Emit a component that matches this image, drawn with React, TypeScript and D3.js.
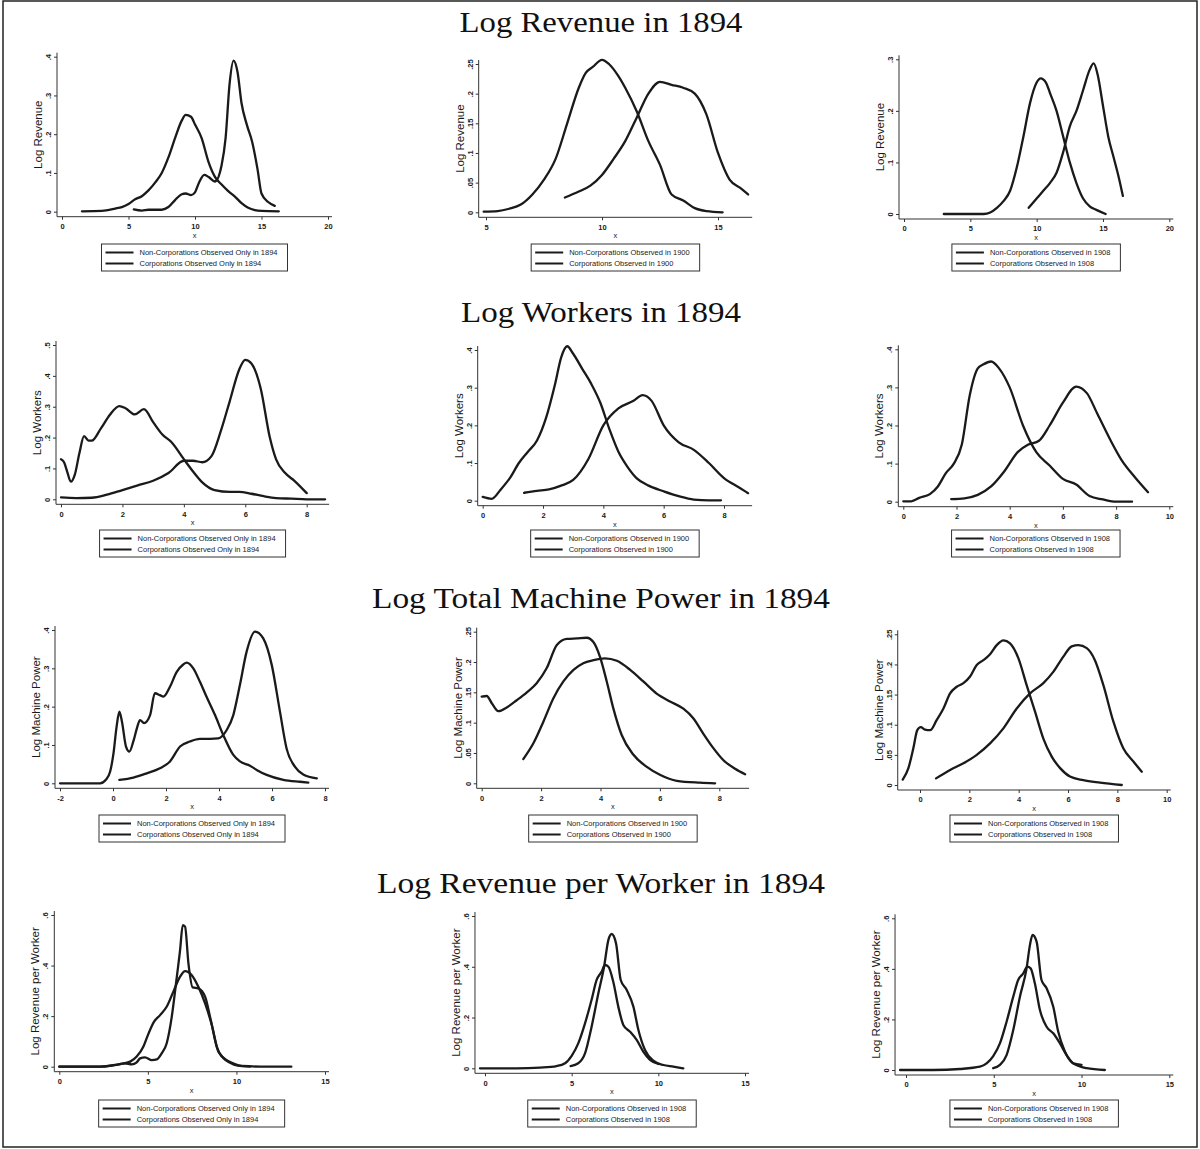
import React, { useEffect, useRef } from 'react';
import * as d3 from 'd3';

// density estimates: [x, density]
const revenue1894Non = [[1.5,.001],[3,.002],[4,.008],[4.5,.012],[5,.02],[5.5,.032],[6,.04],[6.5,.055],[7,.075],[7.5,.1],[8,.14],[8.5,.19],[9,.235],[9.3,.25],[9.7,.245],[10,.225],[10.5,.19],[11,.13],[11.5,.09],[12,.07],[12.5,.053],[13,.039],[13.5,.022],[14,.01],[14.5,.004],[15,.002],[16.3,.001]];
const revenue1894Corp = [[5.4,.006],[6,.003],[6.5,.005],[7,.005],[7.5,.005],[8,.012],[8.5,.03],[9,.045],[9.3,.047],[9.7,.043],[10,.05],[10.3,.075],[10.7,.095],[11,.09],[11.5,.078],[12,.12],[12.3,.19],[12.6,.33],[12.9,.39],[13.2,.36],[13.5,.28],[13.9,.224],[14.3,.18],[14.7,.11],[15,.047],[15.5,.025],[16,.015]];
const revenue1900Non = [[4.9,.001],[5.5,.002],[6,.006],[6.5,.013],[7,.03],[7.5,.055],[8,.09],[8.5,.15],[9,.21],[9.3,.235],[9.6,.245],[10,.257],[10.3,.25],[10.7,.23],[11,.21],[11.5,.17],[12,.12],[12.5,.08],[13,.03],[13.5,.02],[14,.007],[14.5,.002],[15.2,0]];
const revenue1900Corp = [[8.4,.025],[9,.035],[9.5,.045],[10,.063],[10.5,.09],[11,.12],[11.5,.16],[12,.2],[12.5,.22],[13,.215],[13.5,.21],[14,.2],[14.5,.165],[15,.1],[15.5,.055],[16,.04],[16.3,.03]];
const revenue1908Non = [[3,0],[6,0],[6.5,.003],[7,.012],[7.5,.025],[8,.045],[8.5,.09],[9,.15],[9.5,.215],[10,.255],[10.3,.263],[10.7,.255],[11,.235],[11.5,.2],[12,.15],[12.5,.1],[13,.06],[13.5,.03],[14,.015],[14.5,.008],[15.2,0]];
const revenue1908Corp = [[9.4,.012],[10,.03],[10.5,.045],[11,.06],[11.5,.08],[12,.12],[12.5,.17],[13,.2],[13.5,.24],[14,.28],[14.3,.292],[14.6,.27],[15,.21],[15.4,.15],[15.8,.11],[16.2,.07],[16.5,.035]];

const workers1894Non = [[0,.13],[.1,.12],[.2,.09],[.32,.057],[.45,.08],[.6,.15],[.75,.205],[.9,.19],[1,.19],[1.3,.23],[1.6,.275],[1.9,.302],[2.1,.295],[2.4,.275],[2.7,.292],[3,.25],[3.3,.21],[3.6,.185],[4,.13],[4.3,.09],[4.6,.055],[5,.03],[5.5,.024],[5.8,.024],[6.2,.018],[6.6,.01],[7,.004],[7.5,.002],[8,0],[8.6,0]];
const workers1894Corp = [[0,.006],[.5,.004],[1,.005],[1.5,.015],[2,.03],[2.5,.045],[3,.06],[3.5,.085],[4,.125],[4.3,.125],[4.6,.12],[4.9,.14],[5.2,.22],[5.5,.32],[5.8,.42],[6,.452],[6.2,.44],[6.5,.36],[6.8,.2],[7,.13],[7.3,.085],[7.6,.06],[8,.02]];
const workers1900Non = [[0,.01],[.3,.005],[.6,.03],[.9,.06],[1.2,.1],[1.5,.13],[1.8,.16],[2.1,.22],[2.4,.31],[2.6,.38],[2.8,.41],[3,.39],[3.3,.35],[3.6,.31],[3.9,.26],[4.2,.19],[4.5,.13],[4.8,.09],[5.1,.06],[5.5,.04],[6,.025],[6.5,.012],[7,.003],[7.5,.001],[7.9,.001]];
const workers1900Corp = [[1.37,.021],[1.8,.026],[2.2,.03],[2.6,.04],[3,.055],[3.5,.11],[4,.2],[4.5,.245],[5,.265],[5.3,.28],[5.6,.265],[6,.2],[6.5,.155],[7,.135],[7.5,.1],[8,.06],[8.5,.035],[8.8,.02]];
const workers1908Non = [[0,.001],[.3,.001],[.6,.01],[1,.02],[1.3,.04],[1.6,.075],[1.9,.1],[2.2,.15],[2.5,.28],[2.8,.35],[3,.36],[3.3,.368],[3.6,.35],[4,.3],[4.5,.2],[5,.13],[5.5,.095],[6,.06],[6.5,.045],[7,.015],[7.5,.006],[8,0],[8.6,0]];
const workers1908Corp = [[1.8,.007],[2.3,.009],[2.8,.018],[3.3,.04],[3.8,.08],[4.3,.13],[4.7,.15],[5.1,.16],[5.5,.2],[6,.26],[6.5,.302],[6.9,.285],[7.3,.23],[7.8,.16],[8.2,.11],[8.7,.065],[9.2,.025]];

const power1894Non = [[-2,0],[-.49,0],[-.26,.01],[-.11,.03],[.01,.074],[.14,.15],[.24,.187],[.34,.16],[.49,.096],[.62,.083],[.77,.11],[.92,.148],[1.02,.165],[1.17,.157],[1.4,.178],[1.58,.235],[1.77,.23],[1.9,.226],[2.15,.252],[2.4,.29],[2.65,.31],[2.78,.315],[3.03,.3],[3.28,.265],[3.53,.226],[3.85,.178],[4.16,.126],[4.54,.074],[4.79,.057],[5.17,.046],[5.42,.035],[5.8,.022],[6.43,.009],[7.06,.004],[7.37,.002]];
const power1894Corp = [[.24,.009],[.77,.015],[1.27,.026],[1.77,.039],[2.15,.057],[2.53,.096],[2.9,.109],[3.28,.116],[3.66,.116],[3.97,.117],[4.29,.139],[4.54,.178],[4.79,.257],[5.04,.343],[5.36,.396],[5.67,.378],[5.99,.309],[6.3,.187],[6.55,.091],[6.87,.043],[7.18,.023],[7.69,.013]];
const power1900Non = [[0,.143],[.17,.144],[.34,.132],[.56,.119],[.84,.125],[1.18,.137],[1.52,.15],[1.85,.165],[2.19,.19],[2.53,.228],[2.86,.238],[3.2,.239],[3.54,.24],[3.76,.233],[3.98,.209],[4.21,.168],[4.43,.124],[4.71,.08],[5.11,.047],[5.56,.027],[6,.014],[6.57,.004],[7.35,.001],[7.86,0]];
const power1900Corp = [[1.4,.04],[1.74,.066],[2.08,.102],[2.41,.14],[2.75,.168],[3.09,.187],[3.42,.198],[3.76,.203],[4.15,.206],[4.55,.202],[5,.187],[5.44,.168],[5.89,.148],[6.34,.135],[6.79,.123],[7.13,.107],[7.46,.082],[7.8,.058],[8.14,.038],[8.53,.024],[8.87,.015]];
const power1908Non = [[-.7,.009],[-.47,.028],[-.27,.061],[-.11,.091],[.03,.096],[.2,.092],[.41,.091],[.68,.108],[.95,.127],[1.22,.152],[1.49,.163],[1.76,.169],[2.03,.18],[2.3,.199],[2.57,.207],[2.84,.217],[3.11,.232],[3.38,.24],[3.65,.235],[3.99,.21],[4.32,.166],[4.66,.122],[5,.077],[5.34,.047],[5.68,.028],[6.08,.014],[6.62,.008],[7.3,.004],[8.18,0]];
const power1908Corp = [[.65,.011],[1.22,.025],[1.76,.036],[2.3,.05],[2.84,.069],[3.38,.094],[3.92,.127],[4.46,.152],[5,.169],[5.41,.188],[5.81,.213],[6.15,.23],[6.42,.232],[6.76,.227],[7.09,.207],[7.43,.166],[7.84,.105],[8.24,.061],[8.65,.039],[8.99,.022]];

const perWorker1894Non = [[0,0],[2.3,0],[2.86,.003],[3.43,.01],[4,.02],[4.37,.04],[4.75,.08],[5.03,.13],[5.35,.178],[5.69,.204],[6.06,.237],[6.44,.297],[6.82,.356],[7.1,.378],[7.48,.362],[7.85,.316],[8.23,.25],[8.61,.165],[8.98,.059],[9.45,.026],[9.83,.013],[10.3,.003],[11.7,0],[13.1,0]];
const perWorker1894Corp = [[0,0],[2.3,0],[3.15,.007],[3.7,.013],[4.09,.009],[4.37,.017],[4.56,.033],[4.84,.037],[5.22,.026],[5.5,.029],[5.78,.053],[6.06,.092],[6.35,.198],[6.59,.33],[6.82,.462],[6.97,.56],[7.1,.554],[7.29,.409],[7.53,.314],[7.85,.31],[8.23,.277],[8.55,.185],[8.89,.079],[9.27,.033],[9.64,.016],[10.02,.005],[10.77,0]];
const perWorker1908aNon = [[-.29,0],[1.83,0],[3.17,.003],[4.13,.009],[4.62,.02],[5,.049],[5.38,.098],[5.77,.177],[6.15,.27],[6.44,.348],[6.73,.381],[6.92,.407],[7.12,.4],[7.4,.341],[7.69,.243],[7.98,.171],[8.37,.144],[8.75,.112],[9.13,.066],[9.52,.033],[10,.017]];
const perWorker1908aCorp = [[4.94,.009],[5.38,.02],[5.77,.059],[6.15,.164],[6.54,.296],[6.87,.4],[7.12,.506],[7.31,.529],[7.56,.492],[7.83,.348],[8.17,.309],[8.56,.243],[8.85,.151],[9.23,.072],[9.71,.03],[10.29,.013],[10.87,.007],[11.44,0]];
const perWorker1908bNon = [[-.34,0],[1.56,0],[3.07,.004],[4.21,.013],[4.59,.026],[4.97,.055],[5.35,.105],[5.73,.191],[6.11,.29],[6.39,.356],[6.68,.382],[6.91,.409],[7.1,.402],[7.34,.343],[7.63,.237],[8.01,.171],[8.39,.145],[8.77,.105],[9.15,.059],[9.53,.026],[10,.02]];
const perWorker1908bCorp = [[4.97,.007],[5.35,.02],[5.73,.059],[6.11,.158],[6.49,.29],[6.87,.402],[7.06,.494],[7.21,.534],[7.44,.508],[7.72,.356],[8.01,.323],[8.39,.25],[8.67,.152],[9.05,.073],[9.53,.026],[10.29,.007],[11.33,0]];

const rowTitles = ['Log Revenue in 1894', 'Log Workers in 1894', 'Log Total Machine Power in 1894', 'Log Revenue per Worker in 1894'];
const yTitles = ['Log Revenue', 'Log Workers', 'Log Machine Power', 'Log Revenue per Worker'];
const legendNon = ['Non-Corporations Observed Only in 1894', 'Non-Corporations Observed in 1900', 'Non-Corporations Observed in 1908'];
const legendCorp = ['Corporations Observed Only in 1894', 'Corporations Observed in 1900', 'Corporations Observed in 1908'];

// layout: pixel position of first/last x tick and of y=0 / top y tick
const panels = [
  {row:0, leg:0, non:revenue1894Non, corp:revenue1894Corp, xTicks:[0,5,10,15,20], yTicks:[0,.1,.2,.3,.4], xPx:[62,328], yPx:[211.7,56.7]},
  {row:0, leg:1, non:revenue1900Non, corp:revenue1900Corp, xTicks:[5,10,15], yTicks:[0,.05,.1,.15,.2,.25], xPx:[486,718], yPx:[212.3,64]},
  {row:0, leg:2, non:revenue1908Non, corp:revenue1908Corp, xTicks:[0,5,10,15,20], yTicks:[0,.1,.2,.3], xPx:[904,1169.3], yPx:[214,59.3]},
  {row:1, leg:0, non:workers1894Non, corp:workers1894Corp, xTicks:[0,2,4,6,8], yTicks:[0,.1,.2,.3,.4,.5], xPx:[61,306.7], yPx:[499.3,345]},
  {row:1, leg:1, non:workers1900Non, corp:workers1900Corp, xTicks:[0,2,4,6,8], yTicks:[0,.1,.2,.3,.4], xPx:[482.7,724], yPx:[500.7,350]},
  {row:1, leg:2, non:workers1908Non, corp:workers1908Corp, xTicks:[0,2,4,6,8,10], yTicks:[0,.1,.2,.3,.4], xPx:[903.3,1169.3], yPx:[501.7,349.3]},
  {row:2, leg:0, non:power1894Non, corp:power1894Corp, xTicks:[-2,0,2,4,6,8], yTicks:[0,.1,.2,.3,.4], xPx:[60,325], yPx:[783.3,630]},
  {row:2, leg:1, non:power1900Non, corp:power1900Corp, xTicks:[0,2,4,6,8], yTicks:[0,.05,.1,.15,.2,.25], xPx:[481.7,719.3], yPx:[783.3,631.7]},
  {row:2, leg:2, non:power1908Non, corp:power1908Corp, xTicks:[0,2,4,6,8,10], yTicks:[0,.05,.1,.15,.2,.25], xPx:[920,1166.7], yPx:[785,634.3]},
  {row:3, leg:0, non:perWorker1894Non, corp:perWorker1894Corp, xTicks:[0,5,10,15], yTicks:[0,.2,.4,.6], xPx:[59.3,325], yPx:[1066.7,915]},
  {row:3, leg:2, non:perWorker1908aNon, corp:perWorker1908aCorp, xTicks:[0,5,10,15], yTicks:[0,.2,.4,.6], xPx:[485,745], yPx:[1068.3,916]},
  {row:3, leg:2, non:perWorker1908bNon, corp:perWorker1908bCorp, xTicks:[0,5,10,15], yTicks:[0,.2,.4,.6], xPx:[906,1169.3], yPx:[1070,918.3]},
];

const titleY = [32, 322, 608, 893];
const titleW = [283, 280, 458, 448];
const legendTop = [244, 530, 815, 1100];

const fmt = (v: number) => v === 0 ? '0' : String(+v.toFixed(2)).replace(/^(-?)0\./, '$1.');

const SANS = '"Liberation Sans", Arial, sans-serif';
const INK = '#1a1a1a';

export default function App() {
  const ref = useRef<SVGSVGElement>(null);

  useEffect(() => {
    const svg = d3.select(ref.current);
    svg.selectAll('*').remove();

    svg.append('rect')
      .attr('x', 3).attr('y', 1).attr('width', 1194).attr('height', 1146)
      .attr('fill', 'none').attr('stroke', '#222').attr('stroke-width', 1.5);

    rowTitles.forEach((t, i) => {
      svg.append('text')
        .attr('x', 601).attr('y', titleY[i])
        .attr('text-anchor', 'middle')
        .attr('font-family', '"Liberation Serif", "DejaVu Serif", serif')
        .attr('font-size', 30)
        .attr('textLength', titleW[i])
        .attr('lengthAdjust', 'spacingAndGlyphs')
        .attr('fill', '#111')
        .text(t);
    });

    panels.forEach(p => {
      const g = svg.append('g');
      const xLast = p.xTicks[p.xTicks.length - 1];
      const yLast = p.yTicks[p.yTicks.length - 1];
      const x = d3.scaleLinear().domain([p.xTicks[0], xLast]).range(p.xPx);
      const y = d3.scaleLinear().domain([0, yLast]).range(p.yPx);
      const all = p.non.concat(p.corp);
      const dMin = d3.min(all, d => d[0]) as number;
      const dMax = d3.max(all, d => d[0]) as number;

      const axX = x(Math.min(p.xTicks[0], dMin)) - 5;
      const axY = y(0) + 5;
      const axRight = Math.max(x(xLast), x(dMax)) + 4;
      const axTop = y(yLast) - 4;

      g.append('line').attr('x1', axX).attr('x2', axX).attr('y1', axTop).attr('y2', axY)
        .attr('stroke', '#333').attr('stroke-width', 1);
      g.append('line').attr('x1', axX).attr('x2', axRight).attr('y1', axY).attr('y2', axY)
        .attr('stroke', '#333').attr('stroke-width', 1);

      const yAxis = g.append('g')
        .attr('transform', `translate(${axX},0)`)
        .call(d3.axisLeft(y).tickValues(p.yTicks).tickSize(3).tickFormat(d => fmt(+d)));
      yAxis.select('.domain').remove();
      yAxis.selectAll('line').attr('stroke', '#333');
      yAxis.selectAll('text')
        .attr('x', null).attr('dy', null)
        .attr('text-anchor', 'middle')
        .attr('transform', 'translate(-6,0) rotate(-90)')
        .attr('font-family', SANS).attr('font-size', 7.5).attr('font-weight', 'bold').attr('fill', INK);

      const xAxis = g.append('g')
        .attr('transform', `translate(0,${axY})`)
        .call(d3.axisBottom(x).tickValues(p.xTicks).tickSize(3).tickPadding(4).tickFormat(d => fmt(+d)));
      xAxis.select('.domain').remove();
      xAxis.selectAll('line').attr('stroke', '#333');
      xAxis.selectAll('text')
        .attr('font-family', SANS).attr('font-size', 7.5).attr('font-weight', 'bold').attr('fill', INK);

      g.append('text')
        .attr('x', (axX + axRight) / 2).attr('y', axY + 21)
        .attr('text-anchor', 'middle')
        .attr('font-family', SANS).attr('font-size', 7.5).attr('fill', INK)
        .text('x');

      g.append('text')
        .attr('transform', `translate(${axX - 15},${(axTop + axY) / 2}) rotate(-90)`)
        .attr('text-anchor', 'middle')
        .attr('font-family', SANS).attr('font-size', 11.5).attr('fill', INK)
        .text(yTitles[p.row]);

      const line = d3.line<number[]>()
        .x(d => x(d[0]))
        .y(d => y(d[1]))
        .curve(d3.curveMonotoneX);

      [p.non, p.corp].forEach(s => {
        g.append('path')
          .attr('d', line(s))
          .attr('fill', 'none')
          .attr('stroke', INK)
          .attr('stroke-width', 2.3)
          .attr('stroke-linejoin', 'round')
          .attr('stroke-linecap', 'round');
      });

      // legend
      const lg = g.append('g');
      const top = legendTop[p.row];
      const labels = [legendNon[p.leg], legendCorp[p.leg]];
      const texts = labels.map((l, i) => lg.append('text')
        .attr('y', top + 8.5 + i * 11)
        .attr('dy', '0.35em')
        .attr('font-family', SANS).attr('font-size', 7.5).attr('fill', INK)
        .text(l));
      const tw = d3.max(texts, t => (t.node() as SVGTextElement).getComputedTextLength()) as number;
      const w = tw + 48;
      const bx = (axX + axRight) / 2 - w / 2;
      lg.insert('rect', ':first-child')
        .attr('x', bx).attr('y', top).attr('width', w).attr('height', 27)
        .attr('fill', 'white').attr('stroke', '#333').attr('stroke-width', 1);
      texts.forEach((t, i) => {
        t.attr('x', bx + 38);
        lg.append('line')
          .attr('x1', bx + 4).attr('x2', bx + 32)
          .attr('y1', top + 8.5 + i * 11).attr('y2', top + 8.5 + i * 11)
          .attr('stroke', INK).attr('stroke-width', 2);
      });
    });
  }, []);

  return (
    <svg ref={ref} width={1200} height={1149}
      style={{ position: 'absolute', left: 0, top: 0, background: 'white', display: 'block' }} />
  );
}
